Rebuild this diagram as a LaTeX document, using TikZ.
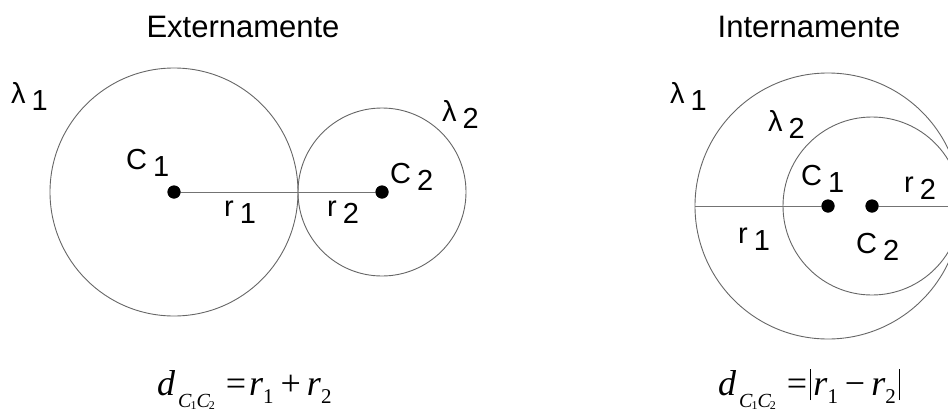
\documentclass[tikz,border=0pt]{standalone}
\usepackage{fontspec}
\setmainfont{Liberation Sans}
\newfontfamily\tnr{Liberation Serif}
\newcommand{\lsub}[2]{#1\hspace{6pt}\raisebox{-7pt}{#2}}
\newcommand{\dsub}{{\itshape d}\hspace{3pt}\raisebox{-12pt}{\fontsize{20}{20}\selectfont\itshape C\hspace{-1pt}\raisebox{-2pt}{\upshape\fontsize{12}{12}\selectfont 1}C\hspace{-1pt}\raisebox{-2pt}{\upshape\fontsize{12}{12}\selectfont 2}}}
\newcommand{\rsub}[1]{{\itshape r}\raisebox{-8pt}{\fontsize{21}{21}\selectfont #1}}
\newcommand{\vbar}{\rule[-5pt]{1.3pt}{31pt}}
\tikzset{
  circ/.style={draw=black!60, line width=0.9pt},
  radius line/.style={draw=black!55, line width=0.9pt},
  dot/.style={circle, fill=black, minimum size=13pt, inner sep=0pt},
  lbl/.style={inner sep=0pt, anchor=base west, font=\fontsize{29}{29}\selectfont},
  title/.style={inner sep=0pt, anchor=base, font=\fontsize{31}{31}\selectfont},
  formula/.style={inner sep=0pt, anchor=base west, font=\tnr\fontsize{36}{36}\selectfont}
}
\begin{document}
\begin{tikzpicture}[x=1pt,y=-1pt]
\useasboundingbox (0,0) rectangle (948,410);
\clip (0,0) rectangle (948,410);
% titles
\node[title] (t1) at (243,37) {Externamente};
\node[title] (t2) at (809,37) {Internamente};
% left figure
\node[dot] (c1) at (174,192) {};
\node[dot] (c2) at (382,192) {};
\draw[circ] (c1.center) circle (124);
\draw[circ] (c2.center) circle (84);
\draw[radius line] (c1.center) -- (c2.center);
\node[dot] at (c1) {};
\node[dot] at (c2) {};
\node[lbl] (l1) at (11,103) {\lsub{λ}{1}};
\node[lbl] (l2) at (442,121) {\lsub{λ}{2}};
\node[lbl] (cl1) at (126,169) {\lsub{C}{1}};
\node[lbl] (cl2) at (390,183) {\lsub{C}{2}};
\node[lbl] (rl1) at (224,216) {\lsub{r}{1}};
\node[lbl] (rl2) at (327,216) {\lsub{r}{2}};
% right figure
\node[dot] (d1) at (828,206) {};
\node[dot] (d2) at (872,206) {};
\coordinate (le) at (695,206);
\coordinate (re) at (962,206);
\draw[circ] (d1.center) circle (133);
\draw[circ] (d2.center) circle (89);
\draw[radius line] (le) -- (d1.center);
\draw[radius line] (d2.center) -- (re);
\node[dot] at (d1) {};
\node[dot] at (d2) {};
\node[lbl] (m1) at (670,103) {\lsub{λ}{1}};
\node[lbl] (m2) at (768,131) {\lsub{λ}{2}};
\node[lbl] (dl1) at (801,185) {\lsub{C}{1}};
\node[lbl] (dl2) at (856,253) {\lsub{C}{2}};
\node[lbl] (sl1) at (738,243) {\lsub{r}{1}};
\node[lbl] (sl2) at (904,192) {\lsub{r}{2}};
% formulas
\node[formula] (f1) at (157,395) {\dsub\hspace{11pt}=\hspace{3pt}\rsub{1}\hspace{7pt}+\hspace{6pt}\rsub{2}};
\node[formula] (f2) at (718,395) {\dsub\hspace{11pt}=\hspace{3pt}\vbar\hspace{2pt}\rsub{1}\hspace{7pt}−\hspace{6pt}\rsub{2}\hspace{3pt}\vbar};
\end{tikzpicture}
\end{document}
